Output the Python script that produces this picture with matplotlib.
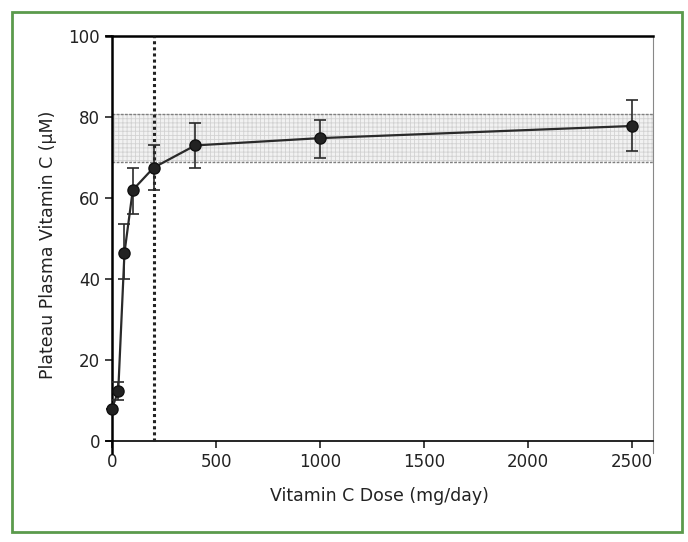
import matplotlib.pyplot as plt
from matplotlib.patches import Rectangle

# dose (mg/day) vs plateau plasma vitamin C (uM)
dose = [0, 30, 60, 100, 200, 400, 1000, 2500]
plasma = [8, 12.3, 46.5, 62, 67.5, 73, 74.8, 77.8]
err_low = [0, 2.3, 6.5, 6, 5.5, 5.5, 4.8, 6.3]
err_high = [0, 2.3, 7, 5.5, 5.5, 5.5, 4.5, 6.3]

band_low = 68.8
band_high = 80.7
rda_dose = 200

plt.rcParams['hatch.color'] = '#d2d2d2'
plt.rcParams['hatch.linewidth'] = 0.6

fig = plt.figure(figsize=(6.88, 5.42), dpi=100)
ax = fig.add_axes([0.1537, 0.164, 0.7955, 0.7694])

# shaded band (starts at the y axis)
ax.fill_between([0, 2600], band_low, band_high, facecolor='#f2f2f2',
                hatch='++++', linewidth=0)
ax.hlines([band_low, band_high], 0, 2600, color='#808080',
          linestyle=(0, (2, 1)), linewidth=1)

# dotted line at 200 mg
ax.plot([rda_dose, rda_dose], [0, 100], color='#222222', linestyle=(0, (1, 1)),
        linewidth=2.2, zorder=3)

ax.errorbar(dose, plasma, yerr=[err_low, err_high], color='#2a2a2a',
            marker='o', markersize=8, markerfacecolor='#222222',
            markeredgecolor='#111111', linewidth=1.6, elinewidth=1.2,
            capsize=4, capthick=1.2, zorder=4)

ax.set_xlim(-30, 2600)
ax.set_ylim(-3, 100)
ax.spines['left'].set_position(('data', 0))
ax.spines['bottom'].set_position(('data', 0))
ax.spines['left'].set_linewidth(1.8)
ax.spines['bottom'].set_linewidth(1.2)
ax.spines['top'].set_linewidth(1.8)
ax.spines['right'].set_linewidth(0.8)
ax.spines['right'].set_color('#888888')

ax.set_xticks([0, 500, 1000, 1500, 2000, 2500])
ax.set_yticks([0, 20, 40, 60, 80, 100])
ax.tick_params(labelsize=12, length=5, width=1.2, colors='#222222')
ax.set_xlabel('Vitamin C Dose (mg/day)', fontsize=12.5, labelpad=12, color='#222222')
ax.set_ylabel('Plateau Plasma Vitamin C (μM)', fontsize=12.5, labelpad=8, color='#222222')

# green frame round the figure
fig.patches.append(Rectangle((12 / 688, 10 / 542), 670 / 688, 520 / 542,
                             transform=fig.transFigure, fill=False,
                             edgecolor='#5b9a4c', linewidth=2))

fig.savefig('out.png', dpi=100)
